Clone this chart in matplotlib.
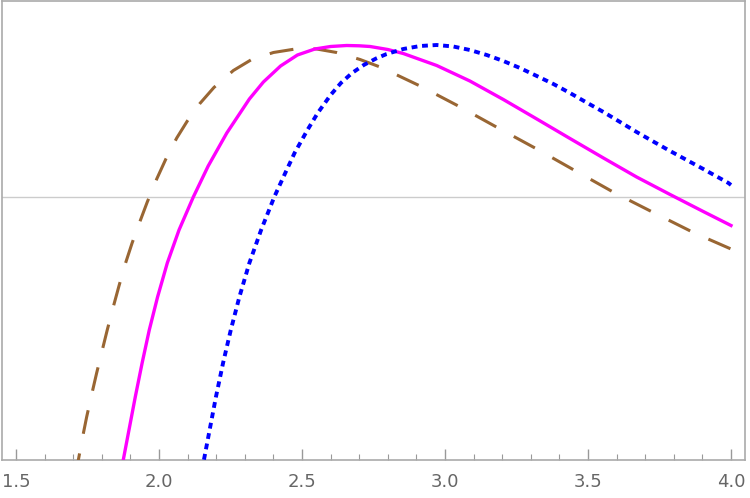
import matplotlib
matplotlib.use("Agg")
import matplotlib.pyplot as plt
from matplotlib.ticker import MultipleLocator

plt.rcParams['lines.scale_dashes'] = False

# Brown dashed curve
brown_x = [1.706, 1.718, 1.733, 1.747, 1.765, 1.782, 1.800, 1.819, 1.840, 1.860, 1.882,
           1.906, 1.934, 1.959, 1.992, 2.024, 2.062, 2.099, 2.143, 2.192, 2.260, 2.321,
           2.400, 2.470, 2.510, 2.551, 2.621, 2.703, 2.773, 2.913, 3.050, 3.186, 3.321,
           3.457, 3.594, 3.732, 3.872, 4.000]
brown_y = [-2.80, -2.63, -2.40, -2.20, -1.97, -1.76, -1.55, -1.33, -1.10, -0.89, -0.67,
           -0.46, -0.24, -0.05, 0.18, 0.38, 0.59, 0.76, 0.935, 1.095, 1.265, 1.37,
           1.445, 1.477, 1.482, 1.48, 1.445, 1.375, 1.30, 1.11, 0.905, 0.69, 0.48,
           0.26, 0.04, -0.16, -0.36, -0.52]

# Magenta solid curve
mag_x = [1.864, 1.875, 1.917, 1.941, 1.966, 1.995, 2.029, 2.070, 2.120, 2.172, 2.237,
         2.316, 2.365, 2.425, 2.484, 2.545, 2.600, 2.656, 2.700, 2.738, 2.800, 2.854,
         2.971, 3.087, 3.204, 3.321, 3.437, 3.554, 3.670, 3.787, 3.903, 4.000]
mag_y = [-2.80, -2.63, -2.00, -1.66, -1.33, -1.00, -0.66, -0.33, 0.00, 0.31, 0.64,
         0.98, 1.15, 1.31, 1.42, 1.48, 1.505, 1.515, 1.512, 1.505, 1.475, 1.435,
         1.315, 1.16, 0.975, 0.78, 0.585, 0.39, 0.20, 0.025, -0.145, -0.285]

# Blue dotted curve
blue_x = [2.150, 2.157, 2.177, 2.199, 2.224, 2.251, 2.281, 2.316, 2.357, 2.403, 2.435,
          2.474, 2.519, 2.555, 2.600, 2.636, 2.675, 2.716, 2.759, 2.796, 2.854, 2.913,
          2.971, 3.029, 3.087, 3.146, 3.204, 3.262, 3.321, 3.379, 3.437, 3.495, 3.554,
          3.612, 3.670, 3.728, 3.787, 3.845, 3.903, 3.991, 4.000]
blue_y = [-2.73, -2.63, -2.33, -2.00, -1.66, -1.33, -1.00, -0.66, -0.33, 0.00, 0.20,
          0.44, 0.67, 0.84, 1.02, 1.14, 1.24, 1.32, 1.385, 1.43, 1.48, 1.51,
          1.52, 1.505, 1.47, 1.42, 1.36, 1.29, 1.21, 1.13, 1.04, 0.945, 0.85,
          0.75, 0.65, 0.555, 0.46, 0.37, 0.28, 0.14, 0.12]

xticks = [1.5, 2.0, 2.5, 3.0, 3.5, 4.0]
xtick_labels = ["1.5", "2.0", "2.5", "3.0", "3.5", "4.0"]

fig = plt.figure(figsize=(7.5, 4.98), dpi=100)
ax = fig.add_axes([1.7/750, (498-460)/498, 743.6/750, 459/498])

ax.axhline(0, color='#cccccc', lw=1.0, zorder=1)

ax.plot(brown_x, brown_y, color='#996633', lw=2.2, dashes=(17.3, 14.4),
        dash_capstyle='butt', dash_joinstyle='round', zorder=3)
ax.plot(mag_x, mag_y, color='#ff00ff', lw=2.4, solid_joinstyle='round', zorder=4)
ax.plot(blue_x, blue_y, color='#0000ff', lw=2.8, dashes=(4.2, 3.4),
        dash_capstyle='butt', zorder=5)

ax.set_xlim(1.45, 4.05)
ax.set_ylim(-2.63, 1.96)

ax.set_xticks(xticks)
ax.set_xticklabels(xtick_labels)
ax.xaxis.set_minor_locator(MultipleLocator(0.1))
ax.set_yticks([])
ax.tick_params(axis='x', which='major', direction='in', length=8, width=1.0,
               color='#999999', labelsize=13, labelcolor='#666666', pad=9,
               top=False)
ax.tick_params(axis='x', which='minor', direction='in', length=4, width=0.8,
               color='#999999', top=False)
for s in ax.spines.values():
    s.set_color('#aaaaaa')
    s.set_linewidth(1.2)

fig.savefig('out.png', dpi=100)
